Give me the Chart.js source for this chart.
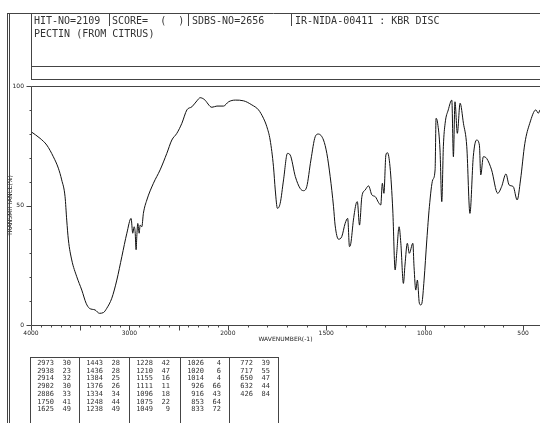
<!DOCTYPE html>
<html>
<head>
<meta charset="utf-8">
<script src="https://cdn.jsdelivr.net/npm/chart.js@4.4.1/dist/chart.umd.min.js"></script>
<style>
html, body { margin: 0; padding: 0; background: #fff; }
#wrap { position: relative; width: 540px; height: 423px; overflow: hidden; font-family: 'DejaVu Sans Mono', monospace; color: #333; }
#wrap canvas { position: absolute; left: 0; top: 0; }
.hd { position: absolute; font-size: 10px; line-height: 10px; white-space: pre; }
.pk { position: absolute; font-size: 7px; line-height: 7px; text-align: right; white-space: pre; }
</style>
</head>
<body>
<div id="wrap">
    <canvas id="irChart" width="540" height="423"></canvas>
    <div class="hd" style="left:34px;top:16px">HIT-NO=2109</div>
    <div class="hd" style="left:112px;top:16px">SCORE=  (  )</div>
    <div class="hd" style="left:192px;top:16px">SDBS-NO=2656</div>
    <div class="hd" style="left:295px;top:16px">IR-NIDA-00411 : KBR DISC</div>
    <div class="hd" style="left:34px;top:29px">PECTIN (FROM CITRUS)</div>
</div>
<script>
// spectrum trace (cm-1 / %T)
const wavenumbers = [
    4000, 3908, 3840, 3773, 3722, 3688, 3654, 3637, 3620, 3586, 3535, 3484, 3440, 3407, 3349, 3305,
    3264, 3230, 3179, 3128, 3077, 3026, 2983, 2966, 2952, 2942, 2932, 2925, 2915, 2901, 2891, 2874,
    2858, 2823, 2756, 2688, 2620, 2569, 2518, 2467, 2416, 2365, 2314, 2281, 2240, 2162, 2111, 2044,
    1996, 1962, 1920, 1878, 1844, 1819, 1802, 1785, 1768, 1759, 1748, 1734, 1717, 1697, 1683, 1657,
    1633, 1616, 1599, 1578, 1556, 1540, 1514, 1497, 1480, 1463, 1455, 1438, 1421, 1404, 1391, 1382,
    1375, 1362, 1348, 1342, 1331, 1319, 1302, 1285, 1268, 1251, 1234, 1223, 1215, 1207, 1197, 1189,
    1176, 1162, 1150, 1142, 1130, 1121, 1108, 1100, 1088, 1078, 1060, 1054, 1045, 1037, 1027, 1020,
    1014, 1003, 989, 976, 959, 947, 942, 934, 922, 913, 905, 896, 880, 862, 854, 846,
    834, 820, 803, 786, 770, 753, 736, 722, 715, 702, 685, 660, 629, 609, 587, 571,
    550, 530, 513, 491, 466, 435, 423, 414
];
const transmittance = [
    80.9, 78.1, 75.3, 70.4, 65.6, 60.7, 53.7, 43.9, 35.6, 27.2, 20.2, 14.6, 9.1, 7.0, 6.3, 4.9,
    5.2, 7.0, 11.2, 18.8, 28.6, 38.4, 44.6, 38.4, 41.1, 39.0, 31.5, 37.0, 42.5, 38.4, 41.8, 41.1,
    46.7, 52.3, 59.3, 64.9, 71.8, 77.4, 80.2, 84.4, 90.0, 91.3, 93.8, 95.1, 94.4, 91.1, 91.6, 91.6,
    93.4, 94.1, 93.8, 92.1, 90.0, 86.5, 83.0, 77.4, 66.2, 56.5, 48.8, 50.9, 60.7, 71.8, 71.1, 62.1,
    57.2, 56.2, 57.9, 69.0, 78.8, 79.9, 77.4, 71.8, 62.1, 49.5, 41.8, 35.9, 37.0, 42.5, 44.6, 32.8,
    34.2, 43.9, 50.9, 51.6, 41.8, 53.7, 56.5, 58.2, 54.4, 53.7, 51.2, 50.2, 59.3, 55.1, 71.1, 72.1,
    66.2, 48.1, 23.0, 30.0, 41.1, 34.2, 17.4, 25.1, 34.2, 30.0, 34.2, 24.4, 14.6, 18.8, 9.1, 8.4,
    9.1, 18.8, 35.6, 49.5, 60.7, 64.9, 86.5, 84.4, 73.2, 51.6, 74.6, 84.4, 90.0, 94.1, 70.4, 93.4,
    80.2, 92.8, 84.4, 74.6, 46.7, 70.4, 77.4, 75.3, 62.8, 70.4, 69.7, 64.9, 55.1, 57.9, 63.2, 58.6,
    57.9, 52.3, 60.7, 76.0, 84.4, 90.0, 88.6, 90.0
];

const xTickLabels = [4000, 3000, 2000, 1500, 1000, 500];
const yTickLabels = [0, 50, 100];

// peak list printed under the chart
const peakWavenumbers = [
    2973, 2938, 2914, 2902, 2886, 1750, 1625,
    1443, 1436, 1384, 1376, 1334, 1248, 1238,
    1228, 1210, 1155, 1111, 1096, 1075, 1049,
    1026, 1020, 1014, 926, 916, 853, 833,
    772, 717, 650, 632, 426
];
const peakIntensities = [
    30, 23, 32, 30, 33, 41, 49,
    28, 28, 25, 26, 34, 44, 49,
    42, 47, 16, 11, 18, 22, 9,
    4, 6, 4, 66, 43, 64, 72,
    39, 55, 47, 44, 84
];

// above 2000 cm-1 the axis is compressed by half
function toPos(w) {
    return w >= 2000 ? (4000 - w) / 2 : 1000 + (2000 - w);
}
function fromPos(p) {
    return p <= 1000 ? 4000 - p * 2 : 2000 - (p - 1000);
}

const tableLeft = [30, 79, 129, 180, 229, 278];

function buildPeakTable() {
    const wrap = document.getElementById('wrap');
    peakWavenumbers.forEach((w, i) => {
        const col = Math.floor(i / 7);
        const row = i % 7;
        const c = tableLeft[col];
        const top = 360 + row * 7.7;
        const a = document.createElement('div');
        a.className = 'pk';
        a.style.left = c + 'px';
        a.style.width = '24px';
        a.style.top = top + 'px';
        a.textContent = String(w);
        wrap.appendChild(a);
        const b = document.createElement('div');
        b.className = 'pk';
        b.style.left = (c + 24) + 'px';
        b.style.width = '17px';
        b.style.top = top + 'px';
        b.textContent = String(peakIntensities[i]);
        wrap.appendChild(b);
    });
}

function line(ctx, x1, y1, x2, y2) {
    ctx.beginPath();
    ctx.moveTo(x1, y1);
    ctx.lineTo(x2, y2);
    ctx.stroke();
}

const framePlugin = {
    id: 'frame',
    afterDraw(chart) {
        const ctx = chart.ctx;
        const ca = chart.chartArea;
        const xs = chart.scales.x;
        const ys = chart.scales.y;
        ctx.save();
        ctx.strokeStyle = '#444';
        ctx.lineWidth = 1;

        // outer page frame and header box
        line(ctx, 7.5, 13, 7.5, 423);
        line(ctx, 9.5, 13, 9.5, 423);
        line(ctx, 7, 13.5, 540, 13.5);
        line(ctx, 31.5, 13, 31.5, 80);
        line(ctx, 31, 66.5, 540, 66.5);
        line(ctx, 31, 79.5, 540, 79.5);
        [109.5, 188.5, 291.5].forEach(x => line(ctx, x, 14, x, 26));

        // plot border
        const L = Math.round(ca.left) + 0.5;
        const T = Math.round(ca.top) + 0.5;
        const B = Math.round(ca.bottom) + 0.5;
        line(ctx, L, T, ca.right, T);
        line(ctx, L, T, L, B);
        line(ctx, L, B, ca.right, B);

        // tick marks
        for (let v = 0; v <= 100; v += 10) {
            const y = Math.round(ys.getPixelForValue(v)) + 0.5;
            line(ctx, L - (v % 50 === 0 ? 5 : 2), y, L, y);
        }
        for (let w = 4000; w >= 500; w -= 100) {
            const x = Math.round(xs.getPixelForValue(toPos(w))) + 0.5;
            line(ctx, x, B, x, B + (w % 500 === 0 ? 5 : 2));
        }

        // peak table
        line(ctx, 30, 357.5, 278, 357.5);
        tableLeft.forEach(x => line(ctx, x + 0.5, 357, x + 0.5, 423));
        ctx.restore();
    }
};

function initializeChart() {
    buildPeakTable();

    const points = wavenumbers.map((w, i) => ({ x: toPos(w), y: transmittance[i] }));

    new Chart(document.getElementById('irChart'), {
        type: 'scatter',
        data: {
            datasets: [{
                data: points,
                showLine: true,
                borderColor: '#111',
                borderWidth: 1,
                pointRadius: 0,
                cubicInterpolationMode: 'monotone'
            }]
        },
        options: {
            responsive: false,
            animation: false,
            layout: { padding: { top: 86, right: 0, left: 0, bottom: 0 } },
            plugins: {
                legend: { display: false },
                tooltip: { enabled: false }
            },
            scales: {
                x: {
                    type: 'linear',
                    min: 0,
                    max: toPos(414),
                    afterBuildTicks: s => { s.ticks = xTickLabels.map(w => ({ value: toPos(w) })); },
                    afterFit: s => { s.height = 98; },
                    grid: { display: false, drawTicks: false },
                    border: { display: false },
                    ticks: {
                        autoSkip: false,
                        maxRotation: 0,
                        padding: 5,
                        color: '#222',
                        font: { family: 'DejaVu Sans', size: 6 },
                        callback: v => String(Math.round(fromPos(v)))
                    },
                    title: {
                        display: true,
                        text: 'WAVENUMBER(-1)',
                        color: '#222',
                        font: { family: 'DejaVu Sans', size: 6 },
                        padding: { top: 0, bottom: 80 }
                    }
                },
                y: {
                    min: 0,
                    max: 100,
                    afterBuildTicks: s => { s.ticks = yTickLabels.map(v => ({ value: v })); },
                    afterFit: s => { s.width = 31; },
                    grid: { display: false, drawTicks: false },
                    border: { display: false },
                    ticks: {
                        padding: 7,
                        color: '#222',
                        font: { family: 'DejaVu Sans', size: 6 }
                    },
                    title: {
                        display: true,
                        text: 'TRANSMITTANCE(%)',
                        color: '#222',
                        font: { family: 'DejaVu Sans', size: 6 },
                        padding: { top: 7, bottom: 0 }
                    }
                }
            }
        },
        plugins: [framePlugin]
    });
}

document.addEventListener('DOMContentLoaded', initializeChart);
</script>
</body>
</html>
